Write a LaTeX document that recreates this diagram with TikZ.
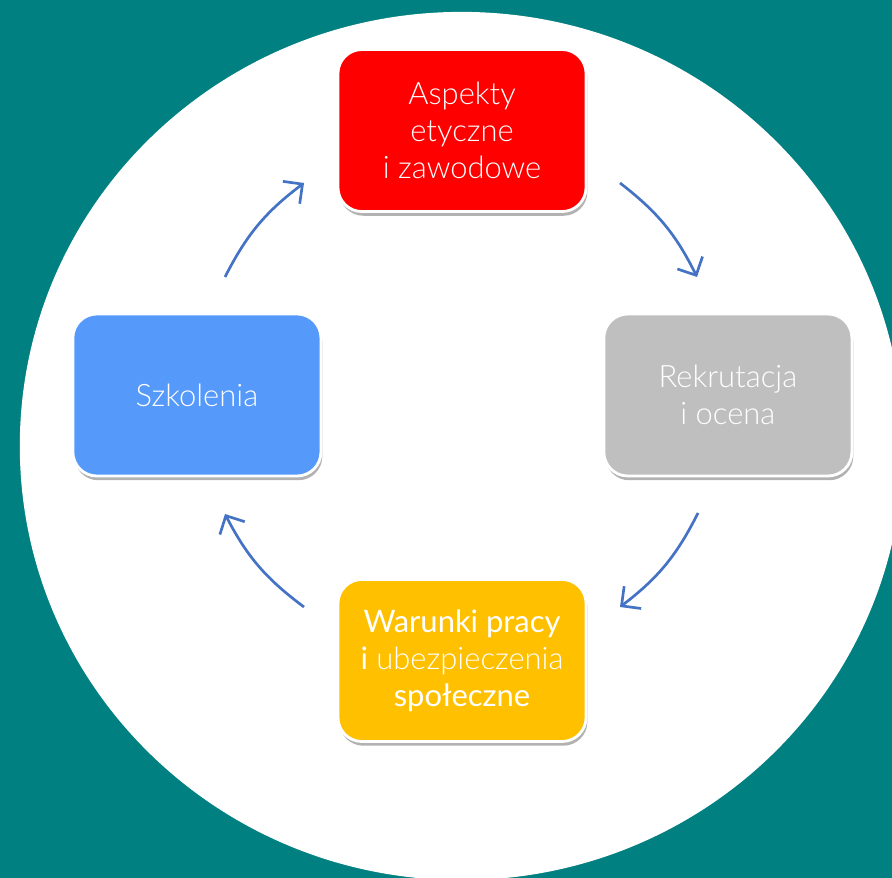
\documentclass[tikz,border=0pt]{standalone}
\usepackage{fontspec}
\setmainfont{Lato}
\newfontfamily\lightfont{Lato Light}
\usetikzlibrary{positioning,arrows.meta,shadows}

\definecolor{bgteal}{RGB}{0,128,128}
\definecolor{boxred}{RGB}{255,0,0}
\definecolor{boxgray}{RGB}{191,191,191}
\definecolor{boxblue}{RGB}{85,153,251}
\definecolor{boxyellow}{RGB}{255,192,0}
\definecolor{flowblue}{RGB}{68,114,196}

\tikzset{
  stepbox/.style = {rounded corners=0.6cm, draw=white, line width=2pt,
    minimum width=6.2cm, minimum height=4.05cm, align=center, text=white,
    font=\lightfont\fontsize{22}{26.3}\selectfont,
    drop shadow={shadow xshift=1pt, shadow yshift=-3pt, fill=black, opacity=0.3}},
  cycle/.style = {draw=flowblue, line width=1.9pt,
    -{Straight Barb[length=0.35cm, width=0.7cm]}, bend left=13},
}

\begin{document}
\begin{tikzpicture}[x=0.025cm, y=-0.025cm]
  \fill[bgteal] (0,0) rectangle (892,878);
  \useasboundingbox (0,0) rectangle (892,878);
  \fill[white] (461.5,446) ellipse [x radius=11.04cm, y radius=10.85cm];

  \coordinate (mid) at (462,395);

  \node[stepbox, fill=boxred, above=4.55cm of mid] (etyka) {Aspekty\\etyczne\\i zawodowe};
  \node[stepbox, fill=boxgray, right=3.51cm of mid] (rekrutacja) {Rekrutacja\\i ocena};
  \node[stepbox, fill=boxyellow, below=4.575cm of mid] (warunki)
    {{\rmfamily Warunki pracy}\\{\rmfamily i} ubezpieczenia\\{\rmfamily społeczne}};
  \node[stepbox, fill=boxblue, left=3.49cm of mid] (szkolenia) {Szkolenia};

  % arrow ends
  \coordinate (a1) at (620,183);
  \coordinate (a2) at (697,277);
  \coordinate (a3) at (698,513);
  \coordinate (a4) at (620,607);
  \coordinate (a5) at (304,607);
  \coordinate (a6) at (225,514);
  \coordinate (a7) at (225,277);
  \coordinate (a8) at (304,183);

  \draw[cycle] (a1) to (a2);
  \draw[cycle] (a3) to (a4);
  \draw[cycle] (a5) to (a6);
  \draw[cycle] (a7) to (a8);
\end{tikzpicture}
\end{document}
